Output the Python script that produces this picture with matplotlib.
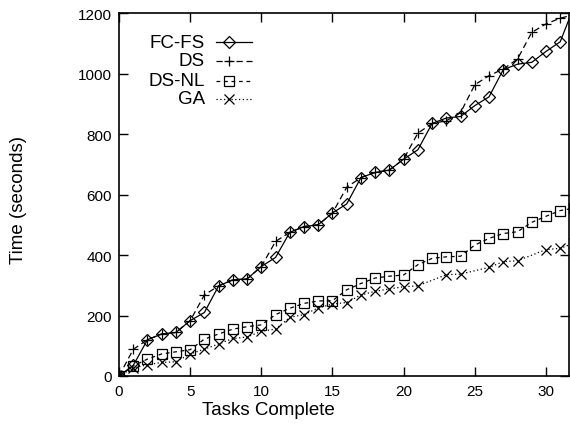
import matplotlib
matplotlib.use("Agg")
import matplotlib.pyplot as plt

plt.rcParams['font.family'] = ['Liberation Sans', 'DejaVu Sans']

tasks = list(range(0, 33))
fcfs = [0, 35, 120, 139, 144, 183, 210, 298, 318, 321, 362, 392, 475, 494, 500, 539,
        569, 656, 673, 681, 717, 748, 835, 853, 858, 894, 923, 1013, 1031, 1037, 1073, 1105, 1225]
ds = [0, 88, 120, 139, 144, 183, 268, 298, 318, 321, 362, 445, 475, 494, 500, 539,
      624, 656, 673, 681, 717, 803, 835, 844, 871, 963, 993, 1015, 1048, 1136, 1164, 1183, 1195]
dsnl = [0, 33, 56, 73, 80, 87, 122, 139, 155, 163, 169, 203, 224, 240, 248, 249,
        285, 306, 324, 330, 334, 368, 389, 394, 396, 433, 455, 471, 477, 508, 528, 547, 555]
ga_tasks = [0, 1, 2, 3, 4, 5, 6, 7, 8, 9, 10, 11, 12, 13, 14, 15, 16, 17, 18, 19, 20, 21,
            23, 24, 26, 27, 28, 30, 31, 32]
ga = [0, 27, 37, 45, 47, 73, 89, 106, 124, 129, 148, 155, 194, 203, 225, 238, 243, 268,
      280, 288, 295, 298, 335, 337, 359, 378, 381, 418, 422, 440]

series = [
    ("FC-FS", tasks, fcfs, dict(linestyle='-', marker='D', markersize=5.8)),
    ("DS", tasks, ds, dict(linestyle=(0, (5, 3)), marker='+', markersize=7.0)),
    ("DS-NL", tasks, dsnl, dict(linestyle=(0, (3, 3)), marker='s', markersize=7.0)),
    ("GA", ga_tasks, ga, dict(linestyle=(0, (1, 2)), marker='x', markersize=6.5)),
]

fig = plt.figure(figsize=(5.7, 4.27), dpi=100)
ax = fig.add_axes([0.2088, 0.1171, 0.789, 0.850])

for name, xs, ys, st in series:
    ax.plot(xs, ys, color='black', linewidth=0.9, markerfacecolor='none',
            markeredgecolor='black', markeredgewidth=0.9, clip_on=True, **st)

ax.set_xlim(0, 31.6)
ax.set_ylim(0, 1200)
ax.set_xticks([0, 5, 10, 15, 20, 25, 30])
ax.set_yticks([0, 200, 400, 600, 800, 1000, 1200])
ax.tick_params(direction='in', length=6.5, width=1, top=True, right=True,
               labelsize=11, pad=5)
ax.tick_params(axis='x', pad=6)
for s in ax.spines.values():
    s.set_linewidth(1.2)

fig.text(0.470, 0.039, "Tasks Complete", ha='center', va='center', fontsize=13.5)
fig.text(0.032, 0.532, "Time (seconds)", ha='center', va='center', rotation=90,
         fontsize=13.5)

# gnuplot-style key: right-aligned text, sample to the right
key_y = [0.920, 0.868, 0.813, 0.764]
for (name, xs, ys, st), ky in zip(series, key_y):
    ax.text(0.191, ky, name, transform=ax.transAxes, ha='right', va='center',
            fontsize=13.5)
    ax.plot([0.215, 0.295], [ky, ky], transform=ax.transAxes, color='black',
            linewidth=0.9, linestyle=st['linestyle'])
    ax.plot([0.245], [ky], transform=ax.transAxes, color='black', marker=st['marker'],
            markersize=st['markersize'], markerfacecolor='none', markeredgewidth=0.9,
            linestyle='none')

fig.savefig("out.png", dpi=100)
